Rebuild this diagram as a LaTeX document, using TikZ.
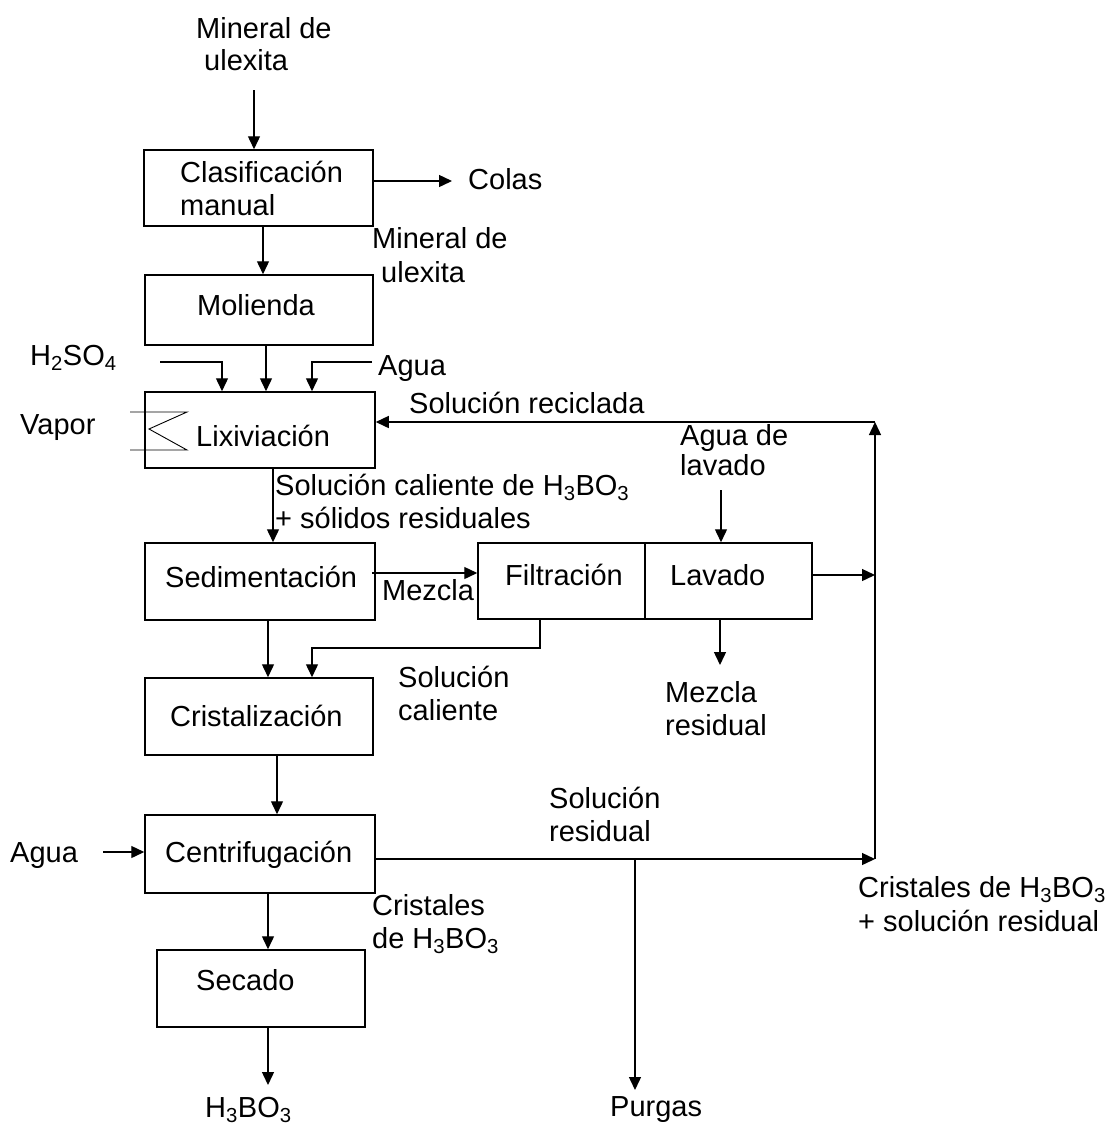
\documentclass[tikz,border=0pt]{standalone}
\usepackage{fontspec}
\setmainfont{Liberation Sans}
\usetikzlibrary{arrows.meta}
\begin{document}
\begin{tikzpicture}[x=1pt,y=-1pt,
  box/.style={draw, line width=1.5pt, inner sep=0pt},
  arr/.style={line width=1.4pt, -{Triangle[length=13pt,width=12pt]}},
  txt/.style={anchor=base west, inner sep=0pt, font=\fontsize{29}{34}\selectfont}]
\useasboundingbox (0,0) rectangle (1105,1128);
% boxes
\node[box, minimum width=229pt, minimum height=76pt] (clas) at (258.5,188) {};
\node[box, minimum width=228pt, minimum height=70pt] (mol) at (259,310) {};
\node[box, minimum width=230pt, minimum height=76pt] (lix) at (260,430) {};
\node[box, minimum width=230pt, minimum height=77pt] (sed) at (260,581.5) {};
\node[box, minimum width=167pt, minimum height=76pt] (filt) at (561.5,581) {};
\node[box, minimum width=167pt, minimum height=76pt] (lav) at (728.5,581) {};
\node[box, minimum width=228pt, minimum height=77pt] (cris) at (259,716.5) {};
\node[box, minimum width=230pt, minimum height=78pt] (cen) at (260,854) {};
\node[box, minimum width=208pt, minimum height=77pt] (sec) at (261,988.5) {};
% texts
\node[txt] (t1) at (196,38) {Mineral de};
\node[txt] (t2) at (204,70) {ulexita};
\node[txt] (tclas1) at (180,182) {Clasificación};
\node[txt] (tclas2) at (180,215) {manual};
\node[txt] (tcolas) at (468,189) {Colas};
\node[txt] (tmin1) at (372,248) {Mineral de};
\node[txt] (tmin2) at (381,282) {ulexita};
\node[txt] (tmol) at (197,315) {Molienda};
\node[txt] (th2so4) at (30,365) {H\textsubscript{2}SO\textsubscript{4}};
\node[txt] (tagua1) at (378,375) {Agua};
\node[txt] (tvapor) at (20,434) {Vapor};
\node[txt] (tlix) at (196,446) {Lixiviación};
\node[txt] (trec) at (409,413) {Solución reciclada};
\node[txt] (tal1) at (680,445) {Agua de};
\node[txt] (tal2) at (680,475) {lavado};
\node[txt] (tsc1) at (275,495) {Solución caliente de H\textsubscript{3}BO\textsubscript{3}};
\node[txt] (tsc2) at (275,528) {+ sólidos residuales};
\node[txt] (tsed) at (165,587) {Sedimentación};
\node[txt] (tmez) at (382,600) {Mezcla};
\node[txt] (tfilt) at (505,585) {Filtración};
\node[txt] (tlav) at (670,585) {Lavado};
\node[txt] (tmr1) at (665,702) {Mezcla};
\node[txt] (tmr2) at (665,735) {residual};
\node[txt] (tsol1) at (398,687) {Solución};
\node[txt] (tsol2) at (398,720) {caliente};
\node[txt] (tcris) at (170,726) {Cristalización};
\node[txt] (tsr1) at (549,808) {Solución};
\node[txt] (tsr2) at (549,841) {residual};
\node[txt] (tagua2) at (10,862) {Agua};
\node[txt] (tcen) at (165,862) {Centrifugación};
\node[txt] (tcr1) at (372,915) {Cristales};
\node[txt] (tcr2) at (372,948) {de H\textsubscript{3}BO\textsubscript{3}};
\node[txt] (tcs1) at (858,897) {Cristales de H\textsubscript{3}BO\textsubscript{3}};
\node[txt] (tcs2) at (858,931) {+ solución residual};
\node[txt] (tsec) at (196,990) {Secado};
\node[txt] (tpur) at (610,1116) {Purgas};
\node[txt] (th3) at (205,1117) {H\textsubscript{3}BO\textsubscript{3}};
% connectors
\coordinate (inA) at (254,90);
\draw[arr] (inA) -- (inA |- clas.north);
\coordinate (colasT) at (452,181);
\draw[arr] (clas.east |- colasT) -- (colasT);
\coordinate (xa) at (263,0);
\draw[arr] (clas.south -| xa) -- (mol.north -| xa);
\coordinate (hs) at (160,362); \coordinate (hsc) at (222,362);
\draw[arr] (hs) -- (hsc) -- (hsc |- lix.north);
\coordinate (xb) at (266,0);
\draw[arr] (mol.south -| xb) -- (lix.north -| xb);
\coordinate (ag) at (372,362); \coordinate (agc) at (312,362);
\draw[arr] (ag) -- (agc) -- (agc |- lix.north);
\draw[line width=0.9pt] (130,412) -- (187,412) -- (149,429) -- (187,450) -- (130,450);
\coordinate (rc) at (875,422);
\draw[arr] (rc) -- (lix.east |- rc);
\coordinate (xc) at (273,0);
\draw[arr] (lix.south -| xc) -- (sed.north -| xc);
\coordinate (mz) at (372,573);
\draw[arr] (mz) -- (filt.west |- mz);
\coordinate (agl) at (721,490);
\draw[arr] (agl) -- (agl |- lav.north);
\coordinate (lavr) at (720,665);
\draw[arr] (lav.south -| lavr) -- (lavr);
\coordinate (lo) at (875,575);
\draw[arr] (lav.east |- lo) -- (lo);
\coordinate (fb) at (540,648); \coordinate (fb2) at (312,648);
\draw[arr] (filt.south -| fb) -- (fb) -- (fb2) -- (fb2 |- cris.north);
\coordinate (xd) at (268,0);
\draw[arr] (sed.south -| xd) -- (cris.north -| xd);
\coordinate (xe) at (277,0);
\draw[arr] (cris.south -| xe) -- (cen.north -| xe);
\coordinate (aw) at (103,852);
\draw[arr] (aw) -- (cen.west |- aw);
\coordinate (ro) at (875,859);
\draw[arr] (cen.east |- ro) -- (ro);
\coordinate (pu) at (635,1090);
\draw[arr] (pu |- ro) -- (pu);
\draw[arr] (ro) -- (rc);
\draw[arr] (cen.south -| xd) -- (sec.north -| xd);
\coordinate (hb) at (268,1085);
\draw[arr] (sec.south -| hb) -- (hb);
\end{tikzpicture}
\end{document}
